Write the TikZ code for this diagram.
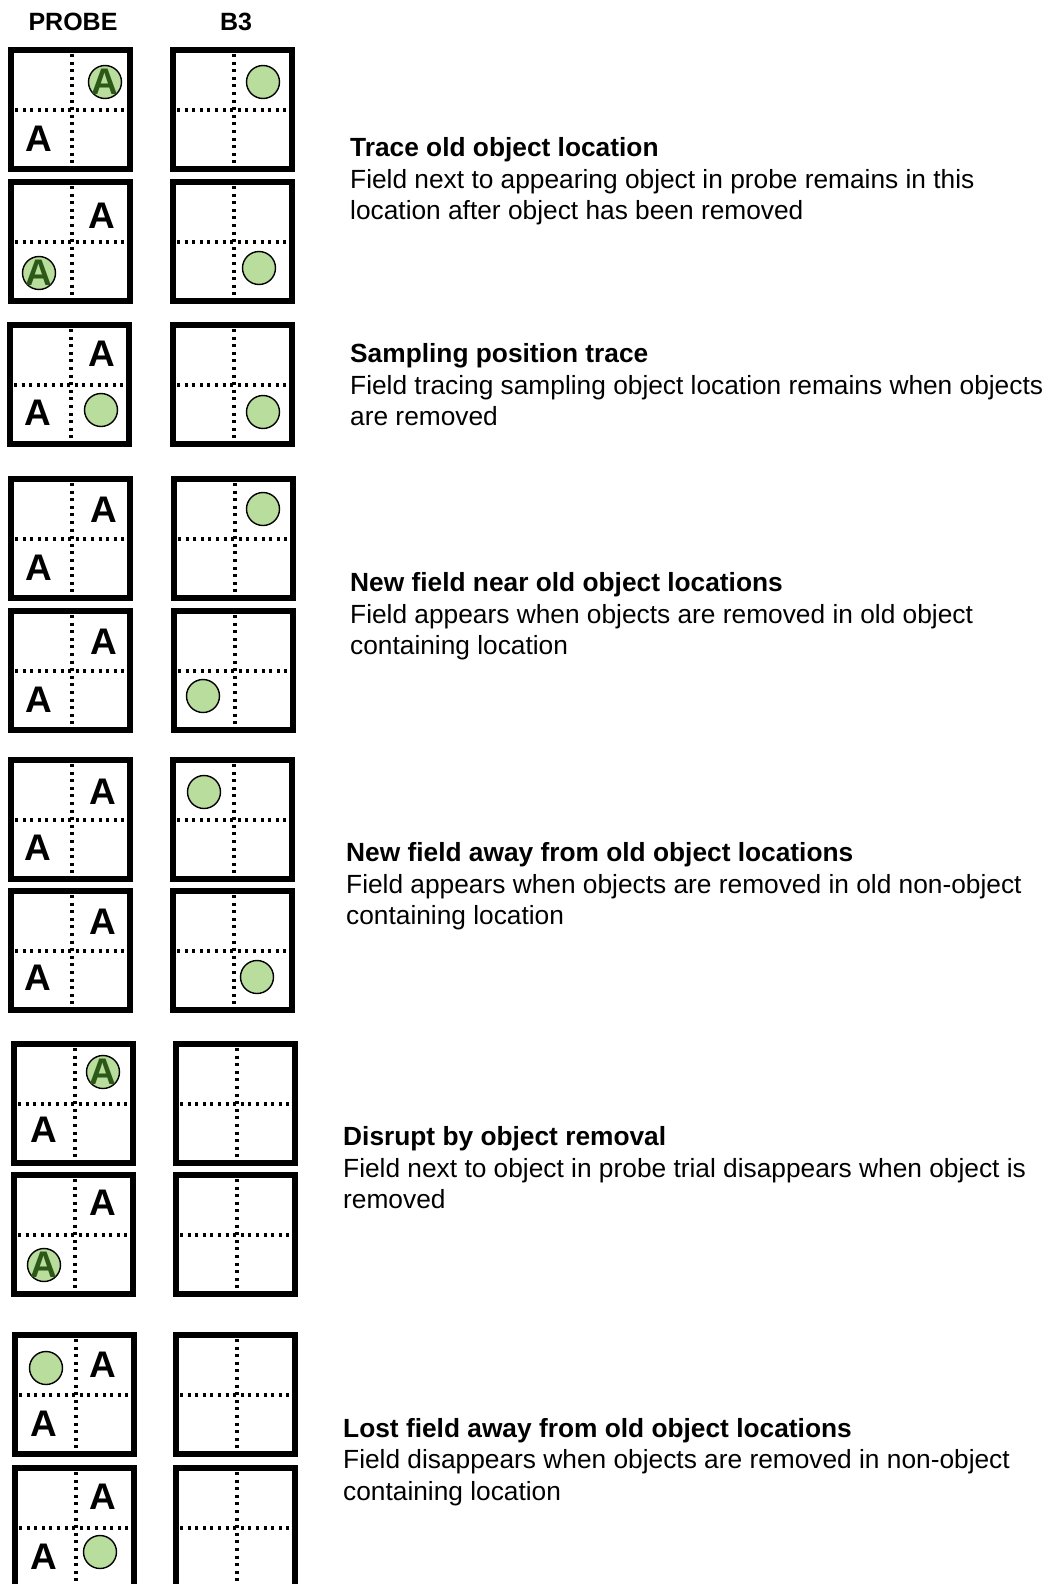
\documentclass[tikz,border=0pt]{standalone}
\usepackage{fontspec}
\setmainfont{Liberation Sans}
\usepackage{xcolor}
\usepackage{tikz}
\usetikzlibrary{calc}
\definecolor{fieldGreen}{RGB}{184,221,156}
\definecolor{fieldGreenDark}{RGB}{44,88,24}

\begin{document}
\begin{tikzpicture}[x=1pt,y=-1pt,
  arena/.style={draw=black, line width=5.2pt},
  divider/.style={black, line width=3.2pt, dash pattern=on 3pt off 4.6pt},
  letterA/.style={font=\fontsize{37}{37}\selectfont\bfseries, inner sep=0pt},
  field/.style={circle, draw=black, fill=fieldGreen, line width=1.4pt, minimum size=33pt, inner sep=0pt},
  header/.style={font=\fontsize{25}{25}\selectfont\bfseries, inner sep=0pt},
  caption/.style={anchor=west, align=left, inner sep=0pt, font=\fontsize{26.3}{31.5}\selectfont}]
\useasboundingbox (0,0) rectangle (1051,1584);
\clip (0,0) rectangle (1051,1584);

\node[header] (hProbe) at (73,22) {PROBE};
\node[header] (hB3) at (236,22) {B3};

% arena corners, probe column (p) and B3 column (b)
\foreach \bx/\by [count=\i] in {11/50,11/182,10/325,11/479,11/611,11/760,11/891,14/1044,14/1175,15/1335,15/1468}{
  \coordinate (p\i) at (\bx,\by);
}
\foreach \bx/\by [count=\i] in {173/50,173/182,173/325,174/479,174/611,173/760,173/891,176/1044,176/1175,176/1335,176/1468}{
  \coordinate (b\i) at (\bx,\by);
}
\foreach \c in {p,b}{
  \foreach \i in {1,...,11}{
    \draw[divider] ($(\c\i)+(61,4)$) -- ++(0,111);
    \draw[divider] ($(\c\i)+(4,60)$) -- ++(111,0);
    \draw[arena] (\c\i) rectangle ($(\c\i)+(119,119)$);
  }
}

% trace old object location
\node[letterA] (a1l) at ($(p1)+(28,89)$) {A};
\node[field] (pf1) at ($(p1)+(94,32)$) {};
\node[letterA, text=fieldGreenDark] (a1u) at (pf1) {A};
\node[field] (bf1) at ($(b1)+(90,32)$) {};
\node[letterA] (a2u) at ($(p2)+(91,34)$) {A};
\node[field] (pf2) at ($(p2)+(28,91)$) {};
\node[letterA, text=fieldGreenDark] (a2l) at (pf2) {A};
\node[field] (bf2) at ($(b2)+(86,86)$) {};

% sampling position trace
\node[letterA] (a3u) at ($(p3)+(92,29)$) {A};
\node[letterA] (a3l) at ($(p3)+(28,88)$) {A};
\node[field] (pf3) at ($(p3)+(91,85)$) {};
\node[field] (bf3) at ($(b3)+(90,87)$) {};

% new field near old objects
\node[letterA] (a4u) at ($(p4)+(93,31)$) {A};
\node[letterA] (a4l) at ($(p4)+(28,89)$) {A};
\node[field] (bf4) at ($(b4)+(89,30)$) {};
\node[letterA] (a5u) at ($(p5)+(93,31)$) {A};
\node[letterA] (a5l) at ($(p5)+(28,89)$) {A};
\node[field] (bf5) at ($(b5)+(29,85)$) {};

% new field away from old objects
\node[letterA] (a6u) at ($(p6)+(92,32)$) {A};
\node[letterA] (a6l) at ($(p6)+(27,88)$) {A};
\node[field] (bf6) at ($(b6)+(31,32)$) {};
\node[letterA] (a7u) at ($(p7)+(92,31)$) {A};
\node[letterA] (a7l) at ($(p7)+(27,87)$) {A};
\node[field] (bf7) at ($(b7)+(84,86)$) {};

% disrupt by removal
\node[field] (pf8) at ($(p8)+(89,28)$) {};
\node[letterA, text=fieldGreenDark] (a8u) at (pf8) {A};
\node[letterA] (a8l) at ($(p8)+(30,86)$) {A};
\node[letterA] (a9u) at ($(p9)+(89,28)$) {A};
\node[field] (pf9) at ($(p9)+(30,90)$) {};
\node[letterA, text=fieldGreenDark] (a9l) at (pf9) {A};

% lost field away from objects
\node[field] (pf10) at ($(p10)+(31,33)$) {};
\node[letterA] (a10u) at ($(p10)+(88,30)$) {A};
\node[letterA] (a10l) at ($(p10)+(29,89)$) {A};
\node[letterA] (a11u) at ($(p11)+(88,29)$) {A};
\node[letterA] (a11l) at ($(p11)+(29,89)$) {A};
\node[field] (pf11) at ($(p11)+(85,84)$) {};

\node[caption] (cap1) at (350,181.5) {\textbf{Trace old object location}\\Field next to appearing object in probe remains in this\\location after object has been removed};
\node[caption] (cap2) at (350,385) {\textbf{Sampling position trace}\\Field tracing sampling object location remains when objects\\are removed};
\node[caption] (cap3) at (350,616.5) {\textbf{New field near old object locations}\\Field appears when objects are removed in old object\\containing location};
\node[caption] (cap4) at (346,886.5) {\textbf{New field away from old object locations}\\Field appears when objects are removed in old non-object\\containing location};
\node[caption] (cap5) at (343,1168) {\textbf{Disrupt by object removal}\\Field next to object in probe trial disappears when object is\\removed};
\node[caption] (cap6) at (343,1462) {\textbf{Lost field away from old object locations}\\Field disappears when objects are removed in non-object\\containing location};
\end{tikzpicture}
\end{document}
